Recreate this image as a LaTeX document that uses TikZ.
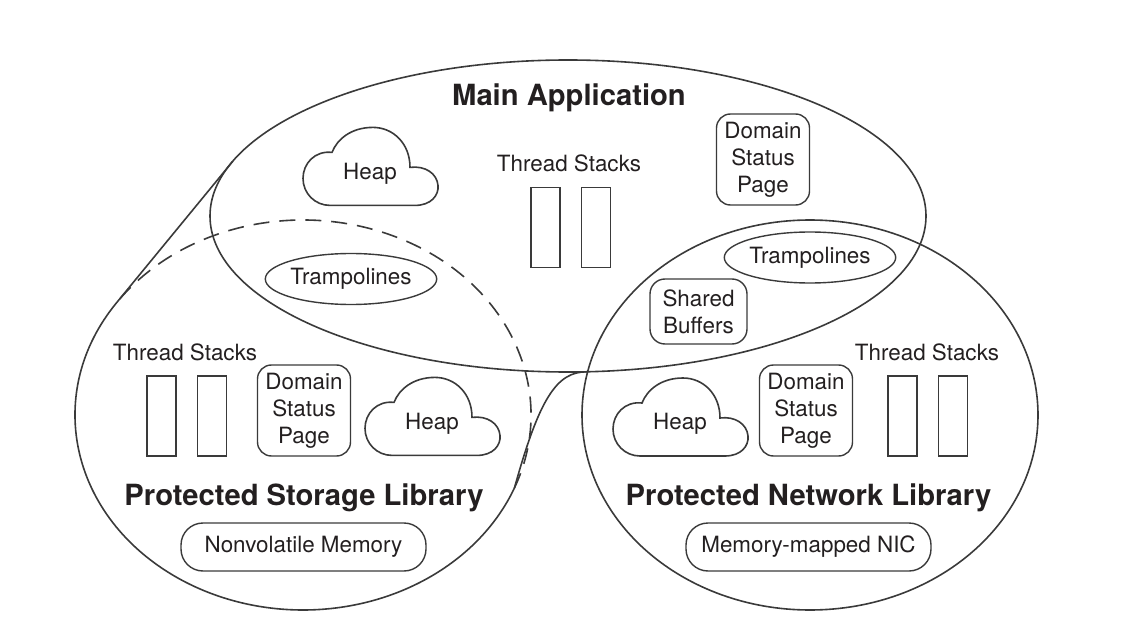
\documentclass[tikz,border=0pt]{standalone}
\usepackage{fontspec}
\setmainfont{TeX Gyre Heros}
\usetikzlibrary{positioning,shapes.geometric,calc}
\definecolor{linegray}{HTML}{3A3A3A}
\definecolor{ink}{HTML}{231F20}

\newcommand{\heapcloud}[1]{%
  \draw[outline, shift={(#1.center)}] (-40,32) -- (45,32)
    .. controls (61,32) and (69,22) .. (68,12)
    .. controls (67,0) and (55,-8) .. (40,-6)
    .. controls (40,-30) and (23,-46) .. (3,-46)
    .. controls (-19,-46) and (-33,-34) .. (-38,-21)
    .. controls (-55,-23) and (-67,-10) .. (-67,5)
    .. controls (-67,20) and (-55,32) .. (-40,32) -- cycle;}

\begin{document}
\begin{tikzpicture}[x=0.5pt, y=-0.5pt,
      outline/.style={draw=linegray, line width=0.8pt},
      hidden/.style={dash pattern=on 8pt off 5pt},
      lbl/.style={text=ink, font=\fontsize{11.2}{13.5}\selectfont, inner sep=0pt},
      titlelbl/.style={text=ink, font=\fontsize{14.6}{17}\selectfont\bfseries, inner sep=0pt},
      statuspage/.style={lbl, outline, line width=0.7pt, rounded corners=7pt, minimum width=46.5pt, minimum height=45.5pt, align=center},
      bufbox/.style={lbl, outline, line width=0.7pt, rounded corners=7.5pt, minimum width=48.5pt, minimum height=32.5pt, align=center},
      membox/.style={lbl, outline, line width=0.7pt, rounded corners=11pt, minimum width=122.5pt, minimum height=24pt},
      tramp/.style={lbl, ellipse, outline, line width=0.7pt, minimum width=80pt, minimum height=25.5pt},
      stackbox/.style={outline, line width=0.7pt, minimum width=14.5pt, minimum height=40pt, inner sep=0pt}
    ]
      \useasboundingbox (0,0) rectangle (1136,626);
      % outlines of the three domains
      \coordinate (mc) at (568,216);
      \coordinate (lc) at (303,415);
      \coordinate (rc) at (810,415);
      \coordinate (ltan) at ($(lc)+(215:228 and 195)$);
      \coordinate (mtan) at ($(mc)+(200.5:358 and 156)$);
      \coordinate (lneck) at ($(lc)+(22:228 and 195)$);
      \coordinate (mneck) at ($(mc)+(87:358 and 156)$);
      \draw[outline] (mc) ellipse[x radius=358, y radius=156];
      \draw[outline] (rc) ellipse[x radius=228, y radius=195];
      \draw[outline] (mtan) -- (ltan) arc[start angle=215, end angle=22, x radius=228, y radius=195]
        .. controls +(25,-90) and +(-30,0) .. (mneck);
      \draw[outline, hidden] (lneck) arc[start angle=22, end angle=-145, x radius=228, y radius=195];

      % main application
      \node[titlelbl, anchor=base] (mtitle) at (569,106) {Main Application};
      \node[lbl] (mheap) at (370,173.4) {Heap};
      \heapcloud{mheap}
      \node[lbl, anchor=base] (mstk) at (569,172) {Thread Stacks};
      \node[stackbox] (ms1) at (545.5,227.5) {};
      \node[stackbox, right=10pt of ms1] (ms2) {};
      \node[statuspage] (mdsp) at (763,159.5) {Domain\\Status\\Page};
      \node[tramp] (mtramp) at (351,279) {Trampolines};
      \node[tramp] (ntramp) at (810,257.5) {Trampolines};
      \node[bufbox] (nbuf) at (698.5,311.5) {Shared\\Buffers};

      % protected storage library
      \node[lbl, anchor=base] (sstk) at (185,360) {Thread Stacks};
      \node[stackbox] (ss1) at (161.5,416) {};
      \node[stackbox, right=10pt of ss1] (ss2) {};
      \node[statuspage] (sdsp) at (304,410.5) {Domain\\Status\\Page};
      \node[lbl] (sheap) at (432,423.4) {Heap};
      \heapcloud{sheap}
      \node[titlelbl, anchor=base] (stitle) at (304,505) {Protected Storage Library};
      \node[membox] (smem) at (303.5,547) {Nonvolatile Memory};

      % protected network library
      \node[lbl] (nheap) at (680,424) {Heap};
      \heapcloud{nheap}
      \node[statuspage] (ndsp) at (806,410.5) {Domain\\Status\\Page};
      \node[lbl, anchor=base] (nstk) at (927,360) {Thread Stacks};
      \node[stackbox] (ns1) at (902.5,416) {};
      \node[stackbox, right=10pt of ns1] (ns2) {};
      \node[titlelbl, anchor=base] (ntitle) at (808.5,505) {Protected Network Library};
      \node[membox] (nmem) at (808.5,547) {Memory-mapped NIC};
    \end{tikzpicture}
\end{document}
